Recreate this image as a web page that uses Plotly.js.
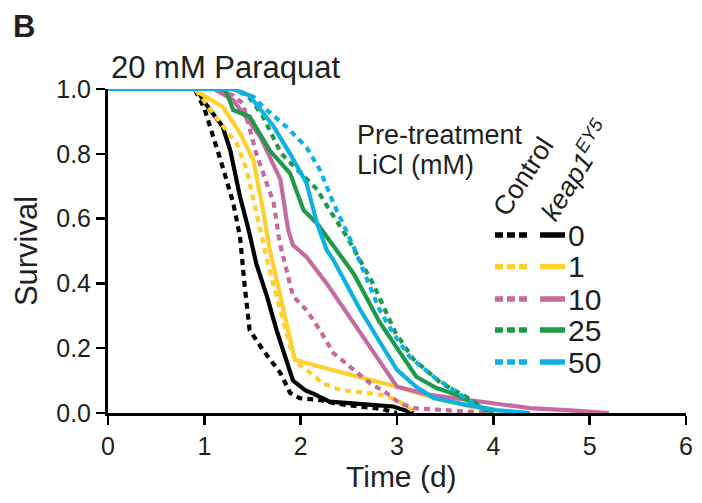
<!DOCTYPE html>
<html>
<head>
<meta charset="utf-8">
<script src="https://cdn.plot.ly/plotly-3.0.1.min.js"></script>
<style>html,body{margin:0;padding:0;background:#fff;}#chart{width:702px;height:503px;}</style>
</head>
<body>
<div id="chart"></div>
<script>
// ---- data (time in days, survival fraction) ----
var ctl0_x = [0, 0.9, 1.0, 1.06, 1.19, 1.30, 1.37, 1.42, 1.47, 1.61, 1.79, 1.89, 1.99, 2.2, 2.35, 2.6, 2.85, 3.0];
var ctl0_y = [1, 1, 0.94, 0.884, 0.76, 0.648, 0.544, 0.39, 0.256, 0.194, 0.123, 0.062, 0.046, 0.04, 0.03, 0.02, 0.012, 0.0];
var kp0_x = [0, 0.92, 1.0, 1.1, 1.19, 1.27, 1.37, 1.46, 1.54, 1.65, 1.75, 1.92, 2.05, 2.13, 2.30, 2.6, 2.96, 3.17];
var kp0_y = [1, 1, 0.96, 0.92, 0.884, 0.81, 0.668, 0.565, 0.46, 0.36, 0.256, 0.10, 0.07, 0.06, 0.035, 0.028, 0.02, 0.0];

var ctl1_x = [0, 0.9, 0.97, 1.09, 1.25, 1.34, 1.44, 1.54, 1.58, 1.66, 1.75, 1.82, 1.89, 1.96, 2.06, 2.23, 2.41, 2.69, 2.85, 3.0, 3.1, 3.2];
var ctl1_y = [1, 1, 0.975, 0.925, 0.864, 0.83, 0.75, 0.617, 0.565, 0.46, 0.36, 0.277, 0.205, 0.154, 0.133, 0.092, 0.071, 0.062, 0.055, 0.04, 0.02, 0.0];
var kp1_x = [0, 0.9, 0.955, 1.19, 1.37, 1.51, 1.61, 1.68, 1.79, 1.94, 2.2, 2.62, 3.0, 3.34, 3.6, 3.85, 4.0];
var kp1_y = [1, 1, 0.987, 0.945, 0.864, 0.78, 0.626, 0.503, 0.36, 0.164, 0.143, 0.112, 0.081, 0.05, 0.03, 0.015, 0.0];

var ctl10_x = [0, 1.1, 1.3, 1.40, 1.54, 1.72, 1.78, 1.85, 1.92, 2.06, 2.2, 2.34, 2.55, 2.72, 2.89, 3.03, 3.17, 3.52, 3.97];
var ctl10_y = [1, 1, 0.98, 0.956, 0.80, 0.648, 0.53, 0.44, 0.36, 0.318, 0.256, 0.185, 0.133, 0.092, 0.062, 0.03, 0.015, 0.009, 0.0];
var kp10_x = [0, 1.1, 1.30, 1.58, 1.79, 1.87, 1.92, 2.06, 2.27, 2.55, 2.79, 3.0, 3.34, 3.86, 4.38, 4.8, 5.2];
var kp10_y = [1, 1, 0.966, 0.853, 0.72, 0.565, 0.518, 0.482, 0.40, 0.277, 0.174, 0.081, 0.056, 0.035, 0.015, 0.008, 0.0];

var ctl25_x = [0, 1.3, 1.45, 1.6, 1.8, 1.99, 2.17, 2.30, 2.48, 2.75, 2.98, 3.17, 3.45, 3.73, 3.96];
var ctl25_y = [1, 1, 0.98, 0.92, 0.80, 0.745, 0.69, 0.626, 0.544, 0.40, 0.25, 0.166, 0.094, 0.048, 0.0];
var kp25_x = [0, 1.2, 1.23, 1.30, 1.47, 1.68, 1.89, 2.03, 2.17, 2.37, 2.55, 2.82, 3.03, 3.2, 3.41, 3.62, 3.86, 4.0];
var kp25_y = [1, 1, 0.99, 0.935, 0.915, 0.81, 0.74, 0.626, 0.585, 0.503, 0.43, 0.28, 0.185, 0.112, 0.077, 0.056, 0.02, 0.0];

var ctl50_x = [0, 1.3, 1.51, 1.61, 1.85, 2.06, 2.2, 2.34, 2.55, 2.82, 2.96, 3.13, 3.38, 3.62, 3.79, 3.97];
var ctl50_y = [1, 1, 0.976, 0.945, 0.884, 0.82, 0.75, 0.648, 0.513, 0.318, 0.246, 0.174, 0.112, 0.062, 0.03, 0.0];
var kp50_x = [0, 1.3, 1.47, 1.72, 1.89, 2.06, 2.17, 2.27, 2.34, 2.62, 2.82, 3.0, 3.2, 3.38, 3.72, 4.03, 4.38];
var kp50_y = [1, 1, 0.98, 0.884, 0.80, 0.71, 0.585, 0.503, 0.472, 0.318, 0.22, 0.133, 0.081, 0.046, 0.025, 0.009, 0.0];

var doseLabels = ['0', '1', '10', '25', '50'];
var xTicks = [0, 1, 2, 3, 4, 5, 6];
var yTicks = [0, 0.2, 0.4, 0.6, 0.8, 1.0];

// ---- styles ----
var colors = ['#000000', '#FDD02E', '#C66A9F', '#1E9A48', '#0DB1E3'];
var FONT = 'Liberation Sans, Arial, sans-serif';
var TXT = '#231f20';
var DOT = '6px,5px';

var series = [
  [ctl0_x, ctl0_y, kp0_x, kp0_y],
  [ctl1_x, ctl1_y, kp1_x, kp1_y],
  [ctl10_x, ctl10_y, kp10_x, kp10_y],
  [ctl25_x, ctl25_y, kp25_x, kp25_y],
  [ctl50_x, ctl50_y, kp50_x, kp50_y]
];

var traces = [];
series.forEach(function (s, i) {
  traces.push({x: s[0], y: s[1], type: 'scatter', mode: 'lines', cliponaxis: false,
    line: {color: colors[i], width: 4.2, dash: DOT}, hoverinfo: 'skip', showlegend: false});
  traces.push({x: s[2], y: s[3], type: 'scatter', mode: 'lines', cliponaxis: false,
    line: {color: colors[i], width: 4.2}, hoverinfo: 'skip', showlegend: false});
});

// plot-area geometry in pixels (for placing legend/annotations)
var L = 108, R = 686, T = 89, B = 413;
function px(x) { return (x - L) / (R - L); }
function py(y) { return (B - y) / (B - T); }

var shapes = [];
var annotations = [];
var rowY = [235, 266.7, 299, 330, 362];
doseLabels.forEach(function (lab, i) {
  shapes.push({type: 'line', xref: 'paper', yref: 'paper', x0: px(495), x1: px(527), y0: py(rowY[i]), y1: py(rowY[i]),
    line: {color: colors[i], width: 5.5, dash: '8px,4px'}});
  shapes.push({type: 'line', xref: 'paper', yref: 'paper', x0: px(540), x1: px(565), y0: py(rowY[i]), y1: py(rowY[i]),
    line: {color: colors[i], width: 5.5}});
  annotations.push({xref: 'paper', yref: 'paper', x: px(566), y: py(rowY[i]), xanchor: 'left', yanchor: 'middle',
    text: lab, showarrow: false, font: {family: FONT, size: 30, color: TXT}});
});

annotations.push({xref: 'paper', yref: 'paper', x: px(355), y: py(135), xanchor: 'left', yanchor: 'middle',
  text: 'Pre-treatment', showarrow: false, font: {family: FONT, size: 27, color: TXT}});
annotations.push({xref: 'paper', yref: 'paper', x: px(355), y: py(165), xanchor: 'left', yanchor: 'middle',
  text: 'LiCl (mM)', showarrow: false, font: {family: FONT, size: 27, color: TXT}});
annotations.push({xref: 'paper', yref: 'paper', x: px(523), y: py(177), xanchor: 'center', yanchor: 'middle',
  text: 'Control', textangle: -57, showarrow: false, font: {family: FONT, size: 27, color: TXT}});
annotations.push({xref: 'paper', yref: 'paper', x: px(575), y: py(170), xanchor: 'center', yanchor: 'middle',
  text: '<i>keap1<sup>EY5</sup></i>', textangle: -58, showarrow: false, font: {family: FONT, size: 27, color: TXT}});
annotations.push({xref: 'paper', yref: 'paper', x: px(11), y: py(26), xanchor: 'left', yanchor: 'middle',
  text: '<b>B</b>', showarrow: false, font: {family: FONT, size: 31, color: TXT}});
annotations.push({xref: 'paper', yref: 'paper', x: px(401), y: py(476), xanchor: 'center', yanchor: 'middle',
  text: 'Time (d)', showarrow: false, font: {family: FONT, size: 30, color: TXT}});

var layout = {
  width: 702, height: 503,
  margin: {l: L, r: 702 - R, t: T, b: 503 - B},
  paper_bgcolor: '#ffffff', plot_bgcolor: '#ffffff',
  font: {family: FONT, color: TXT},
  title: {text: '20 mM Paraquat', xref: 'paper', x: px(111), xanchor: 'left',
    yref: 'container', y: 1 - 67 / 503, yanchor: 'middle', font: {family: FONT, size: 31, color: TXT}},
  xaxis: {range: [0, 6], tickvals: xTicks, ticktext: xTicks.map(String), showgrid: false, zeroline: false,
    showline: true, linecolor: '#000', linewidth: 3, ticks: 'outside', ticklen: 9, tickwidth: 2.5, tickcolor: '#000',
    tickfont: {family: FONT, size: 25, color: TXT}, fixedrange: true},
  yaxis: {range: [0, 1], tickvals: yTicks, ticktext: yTicks.map(function (v) { return v.toFixed(1); }),
    showgrid: false, zeroline: false,
    showline: true, linecolor: '#000', linewidth: 3, ticks: 'outside', ticklen: 9, tickwidth: 2.5, tickcolor: '#000',
    tickfont: {family: FONT, size: 25, color: TXT}, fixedrange: true,
    title: {text: 'Survival', font: {family: FONT, size: 31, color: TXT}, standoff: 10}},
  shapes: shapes,
  annotations: annotations,
  showlegend: false
};

Plotly.newPlot('chart', traces, layout, {displayModeBar: false, staticPlot: true});
</script>
</body>
</html>
